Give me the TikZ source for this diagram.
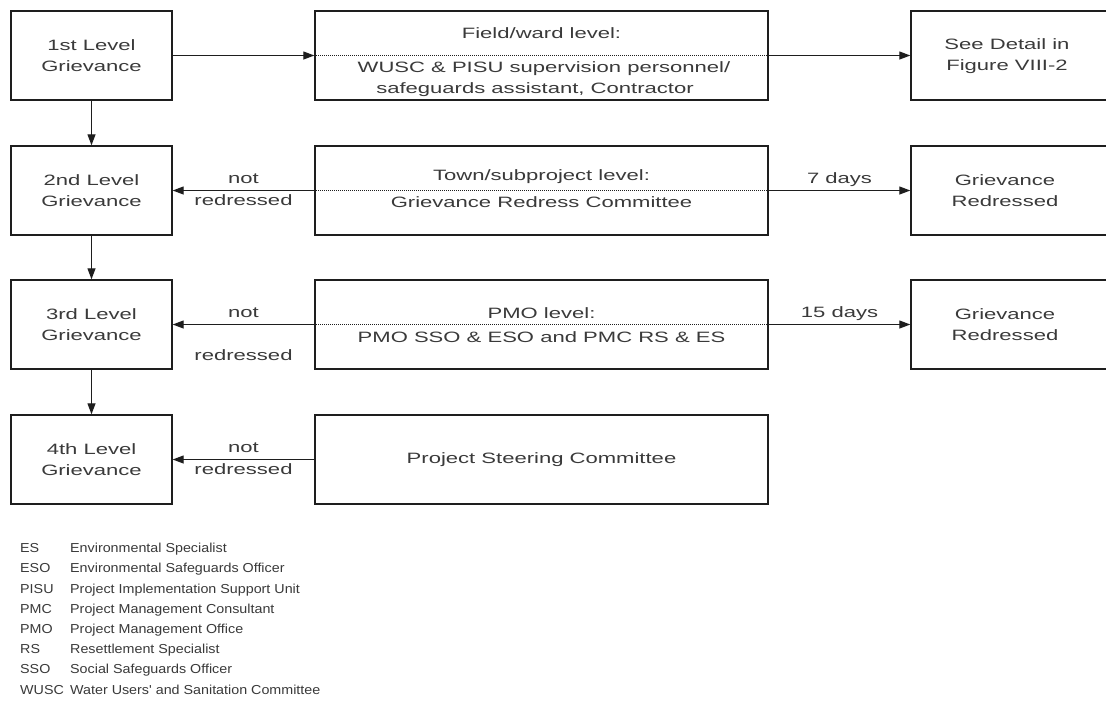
\documentclass[tikz,border=0pt]{standalone}
\usepackage{fontspec}
\setmainfont{Liberation Sans}
\newfontfamily\boxfont{Liberation Sans}[FakeStretch=1.47]
\newfontfamily\legfont{Liberation Sans}[FakeStretch=1.1]
\usetikzlibrary{arrows.meta}
\definecolor{txt}{HTML}{3A3A3A}
\definecolor{ln}{HTML}{1E1E1E}
\begin{document}
\begin{tikzpicture}[x=1pt,y=-1pt,
  box/.style={draw=ln,line width=1.4pt,minimum height=89pt,inner sep=0pt,text=txt,
    font=\boxfont\fontsize{15}{21}\selectfont,align=center},
  lbox/.style={box,minimum width=161pt},
  mbox/.style={box,minimum width=453pt},
  rbox/.style={box,minimum width=204pt},
  txtn/.style={text=txt,font=\boxfont\fontsize{15}{21}\selectfont,inner sep=0pt,anchor=base},
  arr/.style={draw=ln,line width=1.2pt,-{Triangle[length=11pt,width=8pt]}},
  dotl/.style={draw=ln,line width=0.8pt,dash pattern=on 1pt off 1pt},
  leg/.style={text=txt,font=\legfont\fontsize{13}{16}\selectfont,inner sep=0pt,anchor=base west}]
\useasboundingbox (0,0) rectangle (1106,702);
\clip (0,0) rectangle (1106,702);
\fill[white] (0,0) rectangle (1106,702);

% row 1
\node[lbox] (g1) at (91.5,55.5) {1st Level\\Grievance};
\node[mbox] (m1) at (541.5,55.5) {};
\node[rbox] (r1) at (1013,55.5) {};
\node[txtn,anchor=center,align=center] (r1t) at (1007,56) {See Detail in\\Figure VIII-2};
\draw[dotl] (m1.west) -- (m1.east);
\node[txtn] (m1a) at (541.5,38.5) {Field/ward level:};
\node[txtn] (m1b) at (544,72.5) {WUSC \& PISU supervision personnel/};
\node[txtn] (m1c) at (535,93.5) {safeguards assistant, Contractor};

% row 2
\node[lbox] (g2) at (91.5,190.5) {2nd Level\\Grievance};
\node[mbox] (m2) at (541.5,190.5) {};
\node[rbox] (r2) at (1013,190.5) {};
\node[txtn,anchor=center,align=center] (r2t) at (1005,190.5) {Grievance\\Redressed};
\draw[dotl] (m2.west) -- (m2.east);
\node[txtn] (m2a) at (541.5,180.5) {Town/subproject level:};
\node[txtn] (m2b) at (541.5,207.5) {Grievance Redress Committee};

% row 3
\node[lbox] (g3) at (91.5,324.5) {3rd Level\\Grievance};
\node[mbox] (m3) at (541.5,324.5) {};
\node[rbox] (r3) at (1013,324.5) {};
\node[txtn,anchor=center,align=center] (r3t) at (1005,324.5) {Grievance\\Redressed};
\draw[dotl] (m3.west) -- (m3.east);
\node[txtn] (m3a) at (541.5,318.5) {PMO level:};
\node[txtn] (m3b) at (541.5,342.5) {PMO SSO \& ESO and PMC RS \& ES};

% row 4
\node[lbox] (g4) at (91.5,459.5) {4th Level\\Grievance};
\node[mbox] (m4) at (541.5,459.5) {Project Steering Committee};

% connectors
\draw[arr] (g1.east) -- (m1.west);
\draw[arr] (m1.east) -- (r1.west);
\draw[arr] (g1.south) -- (g2.north);
\draw[arr] (g2.south) -- (g3.north);
\draw[arr] (g3.south) -- (g4.north);
\draw[arr] (m2.west) -- (g2.east);
\draw[arr] (m2.east) -- (r2.west);
\draw[arr] (m3.west) -- (g3.east);
\draw[arr] (m3.east) -- (r3.west);
\draw[arr] (m4.west) -- (g4.east);

% connector labels
\node[txtn] (n2) at (243.5,183.5) {not};
\node[txtn] (rd2) at (243.5,205.5) {redressed};
\node[txtn] (n3) at (243.5,317) {not};
\node[txtn] (rd3) at (243.5,360) {redressed};
\node[txtn] (n4) at (243.5,452) {not};
\node[txtn] (rd4) at (243.5,474) {redressed};
\node[txtn] (d7) at (839.5,183.5) {7 days};
\node[txtn] (d15) at (839.5,317.5) {15 days};

% legend
\foreach \a/\d [count=\i] in {ES/Environmental Specialist,
  ESO/Environmental Safeguards Officer,
  PISU/Project Implementation Support Unit,
  PMC/Project Management Consultant,
  PMO/Project Management Office,
  RS/Resettlement Specialist,
  SSO/Social Safeguards Officer,
  WUSC/Water Users' and Sanitation Committee}{
  \node[leg] (ab\i) at (20,532.5+20.2*\i) {\a};
  \node[leg] (de\i) at (70,532.5+20.2*\i) {\d};
}
\end{tikzpicture}
\end{document}
